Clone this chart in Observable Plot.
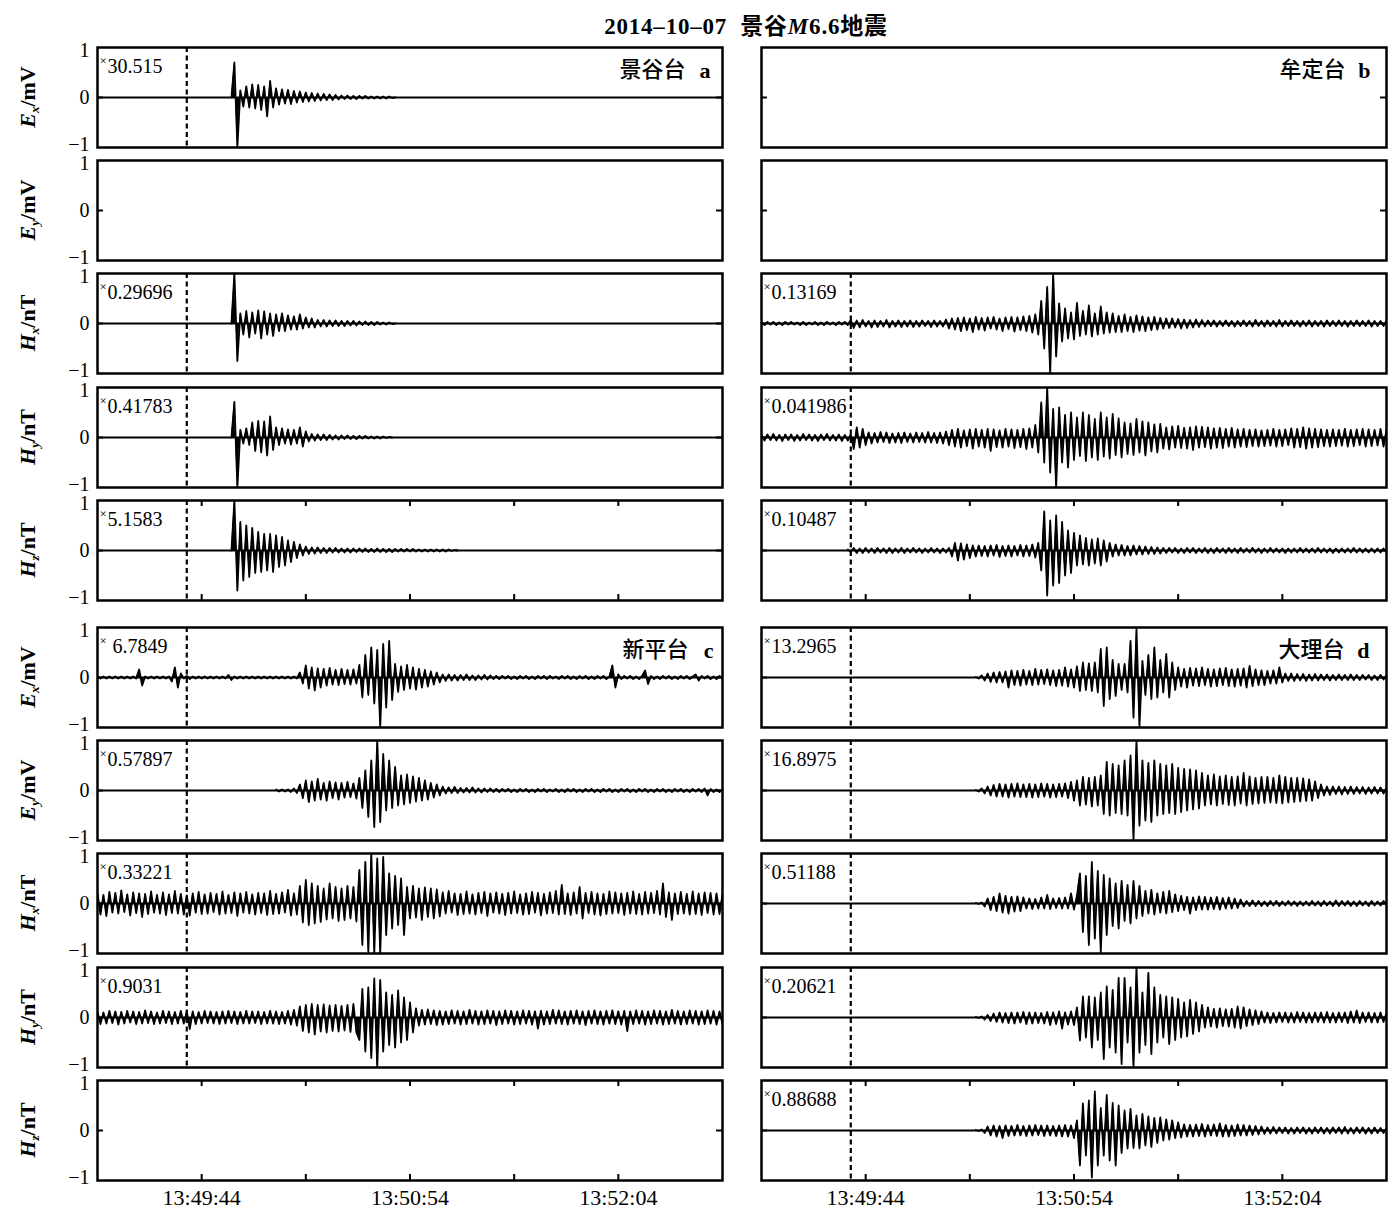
<!DOCTYPE html>
<html><head><meta charset="utf-8">
<script src="https://cdn.jsdelivr.net/npm/d3@7"></script>
<script src="https://cdn.jsdelivr.net/npm/@observablehq/plot@0.6"></script>
<style>
body{margin:0;background:#fff;}
#fig{position:relative;width:1400px;height:1223px;overflow:hidden;font-family:"Liberation Serif","Noto Sans CJK SC",serif;color:#000;}
#fig svg{position:absolute;overflow:visible;}
.ylab{position:absolute;transform:translate(-50%,-50%) rotate(-90deg);font-weight:bold;font-size:22px;white-space:nowrap;line-height:1;}
.ylab sub{font-size:13px;vertical-align:-4px;}
.title{position:absolute;left:446px;width:600px;top:7px;text-align:center;font-weight:bold;font-size:23px;letter-spacing:0.8px;white-space:pre;}
</style></head><body><div id="fig"></div><script>
// ---------------- data (1 s sampling, relative amplitude) -------------
const domainTimes = ["13:49:09", "13:52:39"];
const originTime = "13:49:39";
const xTickTimes = ["13:49:44", "13:50:19", "13:50:54", "13:51:29", "13:52:04"];
const xLabelTimes = ["13:49:44", "13:50:54", "13:52:04"];
const yTickValues = [-1, 0, 1];
const compLetters = ["E", "E", "H", "H", "H"];
const compSubs = ["x", "y", "x", "y", "z"];
const compUnits = ["mV", "mV", "nT", "nT", "nT"];
const stationNames = ["景谷台", "牟定台", "新平台", "大理台"];
const stationLetters = ["a", "b", "c", "d"];
const jgScales = ["30.515", "", "0.29696", "0.41783", "5.1583"];
const mdScales = ["", "", "0.13169", "0.041986", "0.10487"];
const xpScales = [" 6.7849", "0.57897", "0.33221", "0.9031", ""];
const dlScales = ["13.2965", "16.8975", "0.51188", "0.20621", "0.88688"];

// start of each series, seconds after 13:49:09
const jgStart = 45, mdHxStart = 0, mdHyStart = 0, mdHzStart = 29, xpExStart = 0, xpEyStart = 60, xpHxStart = 0, xpHyStart = 0, dlStart = 72;

const jgEx = [0,0.70,-1.00,0.14,-0.18,0.22,-0.20,0.26,-0.22,0.25,
-0.25,0.22,-0.38,0.33,-0.20,0.18,-0.14,0.16,-0.12,0.15,
-0.13,0.13,-0.10,0.12,-0.09,0.10,-0.08,0.09,-0.07,0.08,
-0.06,0.07,-0.05,0.06,-0.05,0.05,-0.04,0.04,-0.03,0.04,
-0.03,0.03,-0.03,0.03,-0.02,0.03,-0.02,0.02,-0.02,0.02,
-0.02,0.02,-0.02,0.02,-0.01,0];
const jgHx = [0,1.00,-0.75,0.20,-0.22,0.25,-0.28,0.22,-0.20,0.26,
-0.30,0.24,-0.22,0.20,-0.25,0.18,-0.15,0.20,-0.15,0.16,
-0.12,0.14,-0.12,0.18,-0.10,0.12,-0.08,0.10,-0.08,0.07,
-0.06,0.07,-0.06,0.06,-0.05,0.06,-0.05,0.05,-0.05,0.05,
-0.04,0.05,-0.04,0.04,-0.03,0.04,-0.03,0.03,-0.03,0.03,
-0.02,0.02,-0.02,0.02,-0.01,0];
const jgHy = [0,0.71,-1.00,0.15,-0.12,0.18,-0.15,0.30,-0.27,0.33,
-0.30,0.32,-0.36,0.42,-0.25,0.20,-0.15,0.18,-0.12,0.16,
-0.14,0.15,-0.12,0.20,-0.18,0.12,-0.08,0.07,-0.06,0.06,
-0.05,0.06,-0.05,0.05,-0.04,0.04,-0.04,0.04,-0.03,0.04,
-0.03,0.03,-0.03,0.03,-0.02,0.03,-0.02,0.02,-0.02,0.02,
-0.02,0.02,-0.01,0.01,0];
const jgHz = [0,1.00,-0.80,0.57,-0.60,0.50,-0.53,0.45,-0.45,0.37,
-0.43,0.33,-0.40,0.33,-0.43,0.30,-0.33,0.27,-0.30,0.20,
-0.23,0.17,-0.15,0.12,-0.10,0.08,-0.07,0.06,-0.06,0.06,
-0.05,0.05,-0.05,0.05,-0.04,0.05,-0.04,0.04,-0.04,0.04,
-0.04,0.04,-0.03,0.04,-0.03,0.04,-0.03,0.03,-0.03,0.04,
-0.03,0.03,-0.03,0.03,-0.03,0.03,-0.02,0.03,-0.02,0.03,
-0.02,0.03,-0.02,0.02,-0.02,0.02,-0.02,0.02,-0.02,0.02,
-0.02,0.02,-0.02,0.02,-0.01,0.01,0];

const mdHx = [0.02,-0.03,0.03,-0.02,0.03,-0.03,0.02,-0.03,0.03,-0.02,
0.03,-0.02,0.02,-0.03,0.03,-0.03,0.02,-0.02,0.03,-0.03,
0.02,-0.03,0.03,-0.02,0.02,-0.03,0.03,-0.02,0.03,-0.03,
0.07,-0.09,0.06,-0.08,0.07,-0.06,0.05,-0.08,0.06,-0.07,
0.05,-0.06,0.07,-0.08,0.05,-0.06,0.06,-0.07,0.05,-0.06,
0.06,-0.07,0.05,-0.06,0.06,-0.05,0.05,-0.07,0.06,-0.06,
0.05,-0.06,
0.08,-0.10,0.10,-0.12,0.11,-0.15,0.12,-0.13,0.10,-0.17,
0.13,-0.12,0.11,-0.14,0.12,-0.10,0.13,-0.12,0.10,-0.15,
0.12,-0.11,0.13,-0.16,0.12,-0.13,0.14,-0.15,0.15,-0.18,
0.18,-0.22,
0.45,-0.50,0.73,-1.00,1.00,-0.66,
0.40,-0.36,0.30,-0.30,0.22,-0.32,0.41,-0.25,
0.25,-0.22,0.36,-0.26,0.20,-0.22,0.34,-0.20,0.22,-0.18,
0.20,-0.17,0.15,-0.17,0.18,-0.15,0.13,-0.17,0.16,-0.14,0.14,-0.15,0.12,-0.13,0.13,-0.12,0.11,
-0.10,0.10,-0.09,0.10,-0.08,0.09,-0.10,0.08,-0.09,0.07,-0.08,0.08,-0.07,0.07,
-0.06,0.06,-0.05,0.06,-0.06,0.05,-0.05,0.06,-0.05,0.05,
-0.06,0.05,-0.05,0.06,-0.05,0.05,-0.06,0.07,-0.05,0.05,
-0.06,0.06,-0.05,0.05,-0.06,0.07,-0.06,0.05,-0.05,0.06,
-0.05,0.05,-0.06,0.05,-0.05,0.06,-0.06,0.05,-0.05,0.05,
-0.06,0.06,-0.05,0.05,-0.05,0.06,-0.05,0.05,-0.06,0.05,
-0.05,0.06,-0.05,0.05,-0.05,0.06,-0.06,0.05,-0.05,0.05,
-0.05,0.05];
const mdHy = [0.05,-0.06,0.06,-0.05,0.07,-0.06,0.05,-0.07,0.06,-0.05,
0.06,-0.07,0.05,-0.06,0.07,-0.05,0.06,-0.06,0.05,-0.07,
0.06,-0.05,0.07,-0.06,0.05,-0.06,0.06,-0.07,0.05,-0.06,
0.06,
-0.23,0.20,-0.20,0.17,-0.15,
0.10,-0.12,0.09,-0.10,0.11,-0.09,0.10,-0.11,0.08,-0.10,
0.09,-0.11,0.10,-0.09,0.08,-0.10,0.10,-0.09,0.09,-0.10,
0.11,-0.10,0.09,-0.11,0.10,-0.12,
0.12,-0.15,0.15,-0.18,0.17,-0.20,0.14,-0.17,0.16,-0.22,
0.17,-0.18,0.15,-0.20,0.17,-0.27,0.16,-0.19,0.14,-0.20,
0.17,-0.18,0.16,-0.21,0.15,-0.19,0.17,-0.23,0.18,-0.20,
0.25,-0.30,
0.70,-0.50,1.00,-0.70,0.57,-1.00,0.60,-0.50,0.45,-0.60,0.50,-0.45,
0.40,-0.37,0.50,-0.47,0.45,-0.40,0.37,-0.45,0.50,-0.38,0.40,-0.42,0.47,-0.35,0.38,-0.40,
0.30,-0.33,0.28,-0.35,0.37,-0.30,0.32,-0.36,0.30,-0.28,0.26,-0.30,0.27,
-0.22,0.20,-0.24,0.22,-0.20,0.23,-0.21,0.19,-0.22,0.20,
-0.25,0.22,-0.20,0.21,-0.19,0.20,-0.22,0.18,-0.20,0.19,
-0.21,0.17,-0.18,0.19,-0.20,0.16,-0.18,
0.17,-0.19,0.15,-0.17,0.16,-0.18,0.14,-0.17,0.15,-0.16,
0.17,-0.18,0.15,-0.17,0.16,-0.15,0.18,-0.20,0.17,-0.19,
0.20,-0.22,0.18,-0.20,0.17,-0.19,0.16,-0.17,0.15,-0.18,
0.16,-0.17,0.15,-0.16,0.17,-0.18,0.15,-0.17,0.16,-0.15,
0.17,-0.18,0.16,-0.17,0.15,-0.16,0.17,-0.18,0.15];
const mdHz = [0.02,-0.03,0.05,-0.05,0.04,-0.05,0.05,-0.04,0.04,-0.05,
0.05,-0.04,0.04,-0.05,0.05,-0.05,0.04,-0.04,0.05,-0.05,
0.04,-0.04,0.05,-0.04,0.04,-0.05,0.04,-0.04,0.05,-0.04,
0.04,-0.05,0.04,-0.04,0.05,
-0.12,0.15,-0.20,0.14,-0.18,0.12,-0.15,0.10,
-0.12,0.10,-0.11,0.09,-0.12,0.10,-0.10,0.11,-0.13,0.09,
-0.11,0.10,-0.12,0.09,-0.10,0.11,-0.12,0.10,-0.11,0.12,
-0.14,0.15,
-0.40,0.78,-0.90,0.60,-0.70,0.70,-0.65,0.57,-0.50,0.40,-0.45,0.35,
-0.30,0.30,-0.28,0.25,-0.30,0.22,-0.26,0.24,-0.30,0.20,-0.22,0.15,
-0.12,0.12,-0.10,0.11,-0.10,0.09,-0.10,0.10,-0.08,0.09,-0.08,0.08,-0.07,0.07,-0.07,0.06,-0.06,
0.05,-0.05,0.05,-0.04,0.05,-0.05,0.04,-0.05,0.05,-0.04,
0.05,-0.05,0.04,-0.04,0.05,-0.05,0.04,-0.05,0.05,-0.04,
0.04,-0.05,0.05,-0.04,0.04,-0.05,0.05,-0.04,0.04,-0.04,
0.05,-0.04,0.04,-0.05,0.04,-0.04,0.05,-0.04,0.04,-0.04,
0.04,-0.05,0.04,-0.04,0.04,-0.04,0.05,-0.04,0.04,-0.04,
0.04,-0.04,0.05,-0.04,0.04,-0.04,0.04,-0.05,0.04,-0.04,
0.04,-0.04,0.04,-0.04,0.05,-0.04,0.04,-0.04,0.04,-0.04,
0.04,-0.04,0.04,-0.04,0.04,-0.04];

const xpEx = [0.02,-0.02,0.02,-0.02,0.02,-0.02,0.02,-0.02,0.02,-0.02,0.02,-0.02,0.02,-0.02,
0.16,-0.16,
0.02,-0.02,0.02,-0.02,0.02,-0.02,0.02,-0.02,0.02,
-0.08,0.20,-0.20,0.08,
-0.02,0.03,-0.03,0.02,-0.02,0.02,-0.02,0.02,-0.02,0.02,
-0.02,0.02,-0.02,0.02,-0.02,0.05,-0.05,0.02,-0.02,0.02,
-0.02,0.02,-0.02,0.02,-0.02,0.02,-0.02,0.02,-0.02,0.02,
-0.02,0.02,-0.02,0.02,-0.02,0.02,-0.02,0.02,-0.02,
0.10,-0.12,0.24,-0.22,0.20,-0.26,0.18,-0.20,0.17,-0.16,
0.19,-0.14,0.15,-0.15,0.17,-0.13,0.15,-0.14,0.16,-0.12,
0.25,-0.40,0.45,-0.35,0.60,-0.52,0.55,-1.00,0.67,-0.60,0.73,-0.45,
0.27,-0.29,0.22,-0.25,0.25,-0.22,0.20,-0.24,0.17,-0.20,0.15,-0.18,0.12,-0.14,0.10,-0.10,
0.06,-0.07,0.06,-0.06,0.05,-0.06,0.05,-0.05,0.06,-0.05,0.04,-0.05,0.04,-0.04,0.05,-0.04,0.04,-0.03,0.03,
-0.03,0.03,-0.02,0.03,-0.03,0.02,-0.03,0.03,-0.02,0.03,
-0.03,0.02,-0.03,0.03,-0.02,0.03,-0.03,0.03,-0.02,0.02,
-0.03,0.03,-0.02,0.03,-0.03,0.02,-0.03,0.03,-0.02,0.03,
-0.03,0.02,-0.03,0.03,-0.02,0.03,-0.03,0.02,
0.24,-0.20,0.06,
-0.03,0.03,-0.02,0.03,-0.03,0.02,-0.03,0.03,
0.14,-0.13,
0.03,-0.03,0.02,-0.03,0.03,-0.02,0.03,-0.03,0.02,-0.03,0.03,-0.02,0.03,-0.03,0.02,0.06,-0.06,0.03,-0.02,0.03,-0.03,0.02,-0.03,0.03,-0.02];
const xpEy = [0.02,-0.02,0.02,-0.02,0.02,-0.03,0.04,-0.05,
0.12,-0.15,0.20,-0.23,0.18,-0.20,0.23,-0.18,0.15,-0.20,
0.18,-0.15,0.16,-0.18,0.15,-0.14,0.17,-0.13,0.14,-0.16,
0.25,-0.35,0.40,-0.53,0.60,-0.73,1.00,-0.63,0.73,-0.40,0.60,-0.35,
0.47,-0.30,0.30,-0.28,0.32,-0.25,0.28,-0.22,0.25,-0.20,0.20,-0.18,0.15,-0.14,0.12,-0.10,
0.08,-0.06,0.06,-0.05,0.07,-0.05,0.05,-0.04,0.05,-0.04,0.06,-0.04,0.04,-0.04,0.04,-0.03,0.04,-0.03,0.03,-0.03,
0.03,-0.02,0.03,-0.03,0.02,-0.03,0.03,-0.02,0.03,-0.03,
0.02,-0.03,0.03,-0.02,0.03,-0.03,0.02,-0.02,0.03,-0.03,
0.02,-0.03,0.03,-0.02,0.03,-0.03,0.02,-0.03,0.03,-0.02,
0.03,-0.03,0.02,-0.03,0.03,-0.02,0.03,-0.03,0.02,-0.03,
0.03,-0.02,0.03,-0.03,0.02,-0.03,0.03,-0.02,0.03,-0.03,
0.02,-0.03,0.03,-0.02,0.03,-0.03,0.02,-0.03,0.03,-0.02,
0.03,-0.03,0.02,-0.03,0.03,-0.02,0.03,-0.03,0.04,-0.10,
0.03,-0.03,0.02,-0.03,0.02];
const xpHx = [0.20,-0.22,0.17,-0.25,0.23,-0.18,0.21,-0.20,0.26,-0.17,
0.18,-0.24,0.22,-0.19,0.20,-0.27,0.19,-0.21,0.24,-0.18,
0.17,-0.20,0.22,-0.23,0.18,-0.19,0.25,-0.20,0.19,-0.22,
0.16,-0.24,0.20,-0.18,0.23,-0.21,0.18,-0.20,0.21,-0.17,
0.19,-0.22,0.24,-0.20,0.17,-0.19,0.22,-0.25,0.20,-0.18,
0.23,-0.20,0.18,-0.22,0.21,-0.19,0.20,-0.23,0.25,-0.21,
0.19,-0.20,0.22,-0.18,0.27,-0.24,0.20,-0.22,
0.35,-0.38,0.47,-0.43,0.40,-0.40,0.35,-0.37,0.30,-0.32,
0.40,-0.30,0.33,-0.35,0.30,-0.33,0.35,-0.30,0.33,-0.36,
0.67,-0.83,0.83,-0.97,1.00,-1.00,0.90,-1.00,0.93,
-0.63,0.60,-0.50,0.55,-0.43,0.50,-0.63,
0.33,-0.30,0.35,-0.28,0.30,-0.33,0.32,-0.27,0.30,-0.30,0.28,-0.26,
0.22,-0.20,0.25,-0.18,0.20,-0.23,0.19,-0.21,0.24,-0.20,
0.18,-0.22,0.21,-0.19,0.23,-0.25,0.20,-0.18,0.22,-0.20,
0.19,-0.23,0.21,-0.20,0.24,-0.19,0.18,-0.22,0.20,-0.21,
0.23,-0.18,0.21,-0.24,0.19,-0.20,0.22,-0.19,0.25,-0.22,
0.37,-0.21,0.20,-0.23,0.22,-0.20,0.33,-0.30,0.21,-0.19,
0.23,-0.22,0.20,-0.24,0.19,-0.21,0.24,-0.20,0.22,-0.19,
0.20,-0.23,0.21,-0.20,0.24,-0.21,0.19,-0.22,0.23,-0.20,
0.21,-0.19,0.25,-0.22,0.40,-0.27,0.22,-0.33,0.20,-0.21,
0.23,-0.20,0.19,-0.22,0.24,-0.21,0.20,-0.23,0.22,-0.19,
0.21,-0.22,0.20,-0.21,0.18];
const xpHy = [0.12,-0.13,0.10,-0.12,0.13,-0.11,0.12,-0.14,0.11,-0.12,
0.13,-0.10,0.12,-0.13,0.11,-0.12,0.14,-0.11,0.12,-0.13,
0.10,-0.12,0.13,-0.11,0.12,-0.13,0.11,-0.12,0.13,-0.12,
0.12,-0.23,0.12,-0.13,0.11,-0.12,0.13,-0.11,0.12,-0.12,
0.11,-0.13,0.12,-0.12,0.13,-0.11,0.12,-0.13,0.11,-0.12,
0.13,-0.12,0.12,-0.11,0.12,-0.13,0.11,-0.12,0.13,-0.12,
0.12,-0.13,0.11,-0.12,0.13,-0.14,0.15,-0.16,
0.22,-0.27,0.25,-0.30,0.27,-0.34,0.25,-0.28,0.26,-0.30,
0.24,-0.27,0.25,-0.28,0.23,-0.26,0.25,-0.29,0.27,-0.30,
-0.45,0.57,-0.68,0.60,-0.81,0.78,-1.00,0.75,-0.68,
0.50,-0.55,0.45,-0.60,0.54,-0.50,0.40,-0.45,0.30,-0.30,
0.18,-0.16,0.15,-0.14,0.16,-0.13,0.14,-0.15,0.13,-0.14,
0.12,-0.13,0.14,-0.12,0.13,-0.14,0.12,-0.13,0.15,-0.12,
0.13,-0.14,0.12,-0.13,0.14,-0.12,0.13,-0.15,0.12,-0.13,
0.14,-0.12,0.13,-0.14,0.12,-0.13,0.14,-0.12,0.13,-0.14,
0.12,-0.22,0.13,-0.14,0.12,-0.13,0.15,-0.12,0.14,-0.13,
0.12,-0.14,0.13,-0.12,0.14,-0.13,0.12,-0.15,0.13,-0.12,
0.14,-0.13,0.12,-0.14,0.13,-0.12,0.14,-0.13,0.12,-0.14,
0.13,-0.27,0.12,-0.13,0.14,-0.12,0.13,-0.14,0.12,-0.13,
0.14,-0.12,0.13,-0.14,0.12,-0.13,0.15,-0.12,0.13,-0.14,
0.12,-0.13,0.14,-0.12,0.13,-0.14,0.12,-0.13,0.14,-0.12,
0.13,-0.14,0.12,-0.13];

const dlEx = [0.01,-0.02,0.04,-0.06,0.08,-0.09,0.10,-0.10,0.11,-0.10,0.12,
-0.20,0.14,-0.15,0.13,-0.16,0.15,-0.14,0.13,-0.15,0.17,
-0.14,0.15,-0.13,0.16,-0.15,0.14,-0.17,0.15,-0.16,0.20,
-0.18,0.16,-0.20,0.22,
-0.27,0.30,-0.25,0.28,-0.27,0.30,-0.30,
0.57,-0.57,0.60,-0.43,0.35,
-0.37,0.27,-0.25,0.27,-0.30,
0.73,-0.80,0.97,-0.97,
0.33,-0.35,0.45,-0.43,0.60,-0.40,0.35,-0.30,0.47,-0.40,0.30,-0.25,
0.20,-0.18,0.17,-0.20,0.19,-0.16,0.18,-0.17,0.20,-0.15,
0.17,-0.18,0.16,-0.17,0.18,-0.15,0.19,-0.17,0.16,-0.18,
0.17,-0.16,0.18,-0.20,0.23,-0.17,0.16,-0.15,0.14,-0.15,
0.13,-0.12,0.14,-0.12,0.20,
-0.10,0.08,-0.07,0.08,-0.07,0.07,-0.06,0.07,-0.07,0.06,
-0.06,0.07,-0.06,0.06,-0.05,0.06,-0.06,0.05,-0.05,0.06,
-0.05,0.05,-0.05,0.06,-0.05,0.05,-0.05,0.05,-0.04,0.05,
-0.05,0.04,-0.05,0.05,-0.04,0.04];
const dlEy = [0.01,-0.02,0.04,-0.06,0.08,-0.10,0.11,-0.12,0.13,-0.12,
0.12,-0.14,0.13,-0.12,0.14,-0.13,0.12,-0.13,0.13,-0.14,
0.12,-0.13,0.14,-0.12,0.13,-0.14,0.12,-0.13,0.13,-0.12,
0.14,-0.15,0.17,-0.20,0.20,
-0.30,0.27,-0.28,0.25,-0.32,0.27,-0.30,0.30,
-0.47,0.57,-0.50,0.53,-0.45,0.50,-0.47,0.60,
-0.50,0.70,-0.97,1.00,-0.70,
0.60,-0.60,0.55,-0.63,0.60,-0.50,0.53,-0.47,0.50,-0.45,0.53,-0.47,0.45,-0.43,0.43,-0.40,0.42,-0.38,0.40,-0.36,0.35,
-0.30,0.30,-0.28,0.32,-0.30,0.28,-0.27,0.30,-0.29,0.27,-0.30,0.28,-0.26,0.35,-0.30,0.28,-0.27,0.25,-0.26,0.27,
-0.25,0.27,-0.24,0.25,-0.25,0.30,-0.26,0.27,-0.24,0.25,-0.23,0.25,-0.22,0.24,-0.21,0.22,-0.20,0.18,-0.15,0.12,
-0.10,0.08,-0.09,0.08,-0.07,0.08,-0.08,0.07,-0.07,0.08,-0.07,0.07,-0.06,0.07,-0.07,0.06,-0.06,0.07,-0.06,0.06,-0.06,0.05];
const dlHx = [0.01,-0.01,0.02,-0.06,0.10,-0.13,0.13,-0.15,0.20,-0.18,0.15,-0.20,0.13,-0.16,0.14,-0.15,0.12,
-0.10,0.10,-0.11,0.09,-0.10,0.12,-0.10,0.17,-0.11,0.10,
-0.09,0.11,-0.10,0.12,-0.10,0.20,-0.12,0.15,
0.60,-0.57,0.55,-0.83,0.83,-0.70,0.65,-0.97,0.57,
-0.63,0.50,-0.45,0.40,-0.50,0.45,-0.35,0.37,-0.40,0.45,-0.30,0.35,
-0.25,0.25,-0.20,0.27,-0.22,0.20,-0.18,0.23,-0.20,0.25,-0.17,0.18,-0.15,0.15,
-0.13,0.13,-0.20,0.12,-0.13,0.14,-0.12,0.13,-0.12,0.12,-0.11,0.13,-0.12,0.11,-0.10,0.12,-0.10,0.10,-0.09,0.08,
-0.06,0.05,-0.05,0.06,-0.05,0.05,-0.05,0.04,-0.05,0.05,
-0.04,0.05,-0.05,0.04,-0.04,0.05,-0.04,0.04,-0.05,0.04,
-0.04,0.04,-0.04,0.05,-0.04,0.04,-0.05,0.05,-0.04,0.04,
-0.05,0.06,-0.05,0.05,-0.04,0.05,-0.05,0.04,-0.05,0.05,
-0.04,0.04,-0.05,0.05,-0.04,0.04,-0.04,0.05,-0.04];
const dlHy = [0.01,-0.01,0.02,-0.04,0.05,-0.07,0.08,-0.09,0.10,-0.10,
0.09,-0.11,0.10,-0.12,0.10,-0.10,0.11,-0.13,0.10,-0.12,
0.10,-0.11,0.09,-0.12,0.11,-0.15,0.10,-0.13,0.12,-0.22,
0.10,-0.14,0.12,-0.15,0.20,
-0.46,0.42,-0.40,0.42,-0.60,0.40,-0.45,0.50,
-0.83,0.62,-0.60,0.55,-0.70,0.79,-0.93,0.79,
-0.50,0.60,-1.00,1.00,-0.70,
0.50,-0.55,0.89,-0.73,0.60,-0.50,
0.45,-0.40,0.42,-0.53,0.40,-0.45,0.37,-0.40,0.30,-0.38,0.35,-0.33,0.30,-0.28,0.25,
-0.20,0.20,-0.18,0.17,-0.20,0.18,-0.17,0.16,-0.18,0.17,-0.20,0.22,-0.22,0.20,-0.17,0.16,-0.15,0.14,-0.13,0.12,
-0.10,0.10,-0.11,0.09,-0.10,0.10,-0.09,0.10,-0.10,0.09,
-0.10,0.11,-0.09,0.10,-0.10,0.09,-0.10,0.10,-0.09,0.10,
-0.10,0.11,-0.10,0.09,-0.10,0.10,-0.09,0.10,-0.11,0.12,
-0.10,0.14,-0.11,0.10,-0.09,0.10,-0.10,0.09,-0.10,0.10,
-0.09,0.09];
const dlHz = [0.01,-0.01,0.02,-0.05,0.08,-0.10,0.10,-0.12,0.09,-0.15,
0.10,-0.11,0.09,-0.10,0.11,-0.10,0.09,-0.11,0.10,-0.10,
0.11,-0.09,0.10,-0.11,0.10,-0.10,0.09,-0.11,0.10,-0.12,
0.11,-0.12,0.10,-0.15,0.20,
-0.70,0.54,-0.50,0.60,-0.94,0.78,-0.70,0.45,
-0.50,0.71,-0.60,0.55,-0.70,0.50,-0.45,0.40,
-0.36,0.43,-0.35,0.30,-0.36,0.33,-0.30,0.28,-0.33,0.25,-0.25,
0.26,-0.20,0.22,-0.18,0.20,-0.15,0.16,-0.14,
0.12,-0.12,0.11,-0.12,0.12,-0.11,0.13,-0.12,0.11,-0.10,
0.12,-0.11,0.14,-0.12,0.11,-0.12,0.10,-0.11,0.12,-0.10,
0.11,-0.10,0.10,-0.09,0.09,-0.08,0.08,
-0.07,0.06,-0.06,0.07,-0.06,0.06,-0.05,0.06,-0.06,0.05,
-0.06,0.06,-0.05,0.06,-0.06,0.05,-0.06,0.06,-0.05,0.06,
-0.06,0.05,-0.06,0.06,-0.05,0.06,-0.06,0.07,-0.06,0.05,
-0.06,0.06,-0.05,0.06,-0.06,0.05,-0.06,0.06,-0.05,0.05,
-0.05,0.05];

// ---------------- layout -------------
const parseT = d3.utcParse("%H:%M:%S");
const fmtT = d3.utcFormat("%H:%M:%S");
const fmtY = d => (d < 0 ? "\u2212" : "") + Math.abs(d);
const domainT = domainTimes.map(parseT);
const originT = parseT(originTime);
const T0 = +domainT[0];
const series = (vals, start) => vals.map((v, i) => ({t: new Date(T0 + (start + i) * 1000), v}));

const frameTops = [46.7, 160, 273.3, 386.7, 500, 626.7, 740, 853.3, 966.7, 1080];
const frameH = 100, frameW = 625;
const colX = [97, 761];

const panels = [];
const leftGroups = [
  {name: 0, scales: jgScales, data: [series(jgEx, jgStart), null, series(jgHx, jgStart), series(jgHy, jgStart), series(jgHz, jgStart)], letterDx: -12},
  {name: 2, scales: xpScales, data: [series(xpEx, xpExStart), series(xpEy, xpEyStart), series(xpHx, xpHxStart), series(xpHy, xpHyStart), null], letterDx: -9}
];
const rightGroups = [
  {name: 1, scales: mdScales, data: [null, null, series(mdHx, mdHxStart), series(mdHy, mdHyStart), series(mdHz, mdHzStart)], letterDx: -16},
  {name: 3, scales: dlScales, data: [series(dlEx, dlStart), series(dlEy, dlStart), series(dlHx, dlStart), series(dlHy, dlStart), series(dlHz, dlStart)], letterDx: -17}
];
[leftGroups, rightGroups].forEach((groups, col) => {
  groups.forEach((g, gi) => {
    for (let r = 0; r < 5; r++) {
      panels.push({col, row: gi * 5 + r, data: g.data[r], scale: g.scales[r],
        station: r === 0 ? g.name : null, letterDx: g.letterDx,
        xticks: r === 4, xlabels: r === 4 && gi === 1});
    }
  });
});

const fig = document.getElementById("fig");
const FONT = "Liberation Serif";

function makePanel(p) {
  const ml = 50, mr = 8, mt = 8, mb = p.xlabels ? 46 : 8;
  const marks = [];
  const tick2s = new Date(T0 + 2000), tickEnd2s = new Date(+domainT[1] - 2000);
  if (p.data) {
    marks.push(Plot.ruleY([0], {stroke: "#000", strokeWidth: 2}));
    marks.push(Plot.ruleX([originT], {stroke: "#000", strokeWidth: 2.2, strokeDasharray: "5,3.5"}));
    marks.push(Plot.areaY(p.data, {x: "t", y: "v", fill: "#000", clip: true}));
    marks.push(Plot.line(p.data, {x: "t", y: "v", stroke: "#000", strokeWidth: 1.8, strokeLinejoin: "round", clip: true}));
  }
  // inward ticks at y = 0 on both sides
  marks.push(Plot.ruleY([0], {x1: () => domainT[0], x2: () => tick2s, stroke: "#000", strokeWidth: 2}));
  marks.push(Plot.ruleY([0], {x1: () => tickEnd2s, x2: () => domainT[1], stroke: "#000", strokeWidth: 2}));
  if (p.xticks) {
    const tks = xTickTimes.map(parseT);
    marks.push(Plot.ruleX(tks, {y1: -1, y2: -0.88, stroke: "#000", strokeWidth: 2}));
    marks.push(Plot.ruleX(tks, {y1: 0.88, y2: 1, stroke: "#000", strokeWidth: 2}));
  }
  if (p.col === 0) {
    const ax = {tickFormat: fmtY, label: null, tickSize: 0, tickPadding: 8, fontSize: 20, fontFamily: FONT};
    marks.push(Plot.axisY({...ax, ticks: [yTickValues[2]], dy: 3}));
    marks.push(Plot.axisY({...ax, ticks: [yTickValues[1]]}));
    marks.push(Plot.axisY({...ax, ticks: [yTickValues[0]], dy: -3}));
  }
  if (p.xlabels) {
    marks.push(Plot.axisX({ticks: xLabelTimes.map(parseT), tickFormat: fmtT, label: null, tickSize: 0, tickPadding: 9, fontSize: 22, fontFamily: FONT}));
  }
  if (p.scale) {
    marks.push(Plot.text(["×"], {text: d => d, frameAnchor: "top-left", textAnchor: "start", lineAnchor: "middle", dx: 2, dy: 13, fontSize: 13, fontFamily: FONT}));
    marks.push(Plot.text([p.scale], {text: d => d, frameAnchor: "top-left", textAnchor: "start", lineAnchor: "middle", dx: 10, dy: 19, fontSize: 20, fontFamily: FONT}));
  }
  if (p.station !== null) {
    marks.push(Plot.text([stationLetters[p.station]], {text: d => d, frameAnchor: "top-right", textAnchor: "end", lineAnchor: "middle", dx: p.letterDx, dy: 23, fontSize: 22, fontWeight: "bold", fontFamily: FONT}));
    marks.push(Plot.text([stationNames[p.station]], {text: d => d, frameAnchor: "top-right", textAnchor: "end", lineAnchor: "middle", dx: p.letterDx - 25, dy: 22, fontSize: 22, fontWeight: 500, fontFamily: "Noto Sans CJK SC"}));
  }
  marks.push(Plot.frame({stroke: "#000", strokeWidth: 2.5}));
  const svg = Plot.plot({
    width: frameW + ml + mr, height: frameH + mt + mb,
    marginLeft: ml, marginRight: mr, marginTop: mt, marginBottom: mb,
    x: {type: "utc", domain: domainT, axis: null},
    y: {domain: [-1, 1], axis: null},
    style: {fontFamily: FONT, fontSize: "22px", color: "#000", background: "transparent", overflow: "visible"},
    marks
  });
  svg.style.left = (colX[p.col] - ml) + "px";
  svg.style.top = (frameTops[p.row] - mt) + "px";
  fig.appendChild(svg);
}
panels.forEach(makePanel);

// y-axis titles
frameTops.forEach((top, row) => {
  const k = row % 5;
  const d = document.createElement("div");
  d.className = "ylab";
  d.style.left = "29px";
  d.style.top = (top + frameH / 2) + "px";
  d.innerHTML = `<i>${compLetters[k]}</i><sub><i>${compSubs[k]}</i></sub>/${compUnits[k]}`;
  fig.appendChild(d);
});

// title
const title = document.createElement("div");
title.className = "title";
title.innerHTML = "2014–10–07  景谷<i>M</i>6.6地震";
fig.appendChild(title);
</script></body></html>
